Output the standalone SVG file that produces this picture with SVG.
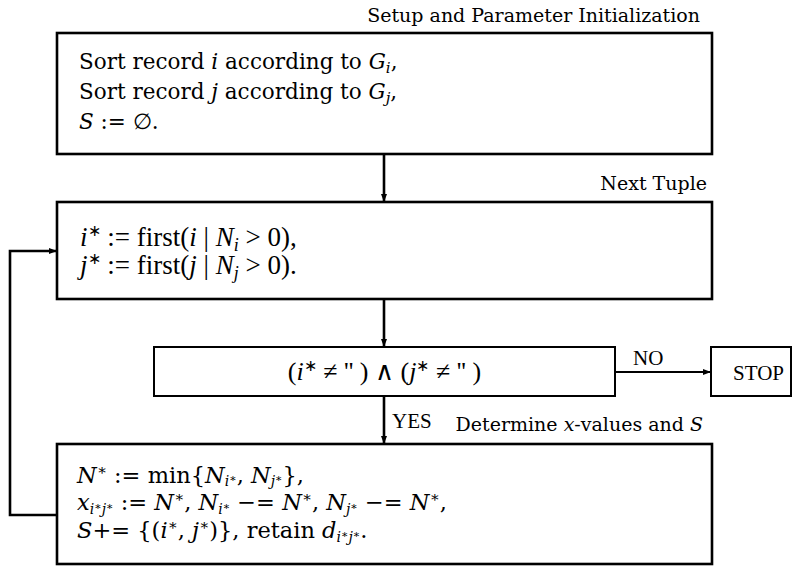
<svg xmlns="http://www.w3.org/2000/svg" width="805" height="567" viewBox="0 0 805 567">
<defs>
<style>
.box{fill:#fff;stroke:#000;stroke-width:2.6}
.thin{fill:#fff;stroke:#000;stroke-width:2}
.con{fill:none;stroke:#000;stroke-width:2.6}
.conthin{fill:none;stroke:#000;stroke-width:1.8}
.luc{font-family:"DejaVu Serif","Liberation Serif",serif;font-size:21.5px;fill:#000}
.luc2{font-family:"DejaVu Serif","Liberation Serif",serif;font-size:22.5px;fill:#000}
.lab{font-family:"DejaVu Serif","Liberation Serif",serif;font-size:19px;fill:#000}
.cm{font-family:"Liberation Serif","Times New Roman",serif;font-size:27px;fill:#000}
.dec{font-family:"Liberation Serif","Times New Roman",serif;font-size:26px;fill:#000}
.tm{font-family:"Liberation Serif","Times New Roman",serif;font-size:21px;fill:#000}
.it{font-style:italic}
</style>
<marker id="ah" viewBox="0 0 8 6" refX="8" refY="3" markerWidth="8" markerHeight="6" markerUnits="userSpaceOnUse" orient="auto">
<path d="M0,0 L8,3 L0,6 Z" fill="#000"/>
</marker>
</defs>
<rect width="805" height="567" fill="#fff"/>

<g id="connectors">
<path class="con" d="M384,154 V202" marker-end="url(#ah)"/>
<path class="con" d="M384,299 V347" marker-end="url(#ah)"/>
<path class="con" d="M384,396 V444" marker-end="url(#ah)"/>
<path class="conthin" d="M615,372 H711" marker-end="url(#ah)"/>
<path class="con" d="M57,515 H10 V251 H57" marker-end="url(#ah)"/>
<text class="tm" x="633" y="365">NO</text>
<text class="tm" x="392" y="428">YES</text>
</g>

<g id="label-setup">
<text class="lab" x="700" y="22" text-anchor="end">Setup and Parameter Initialization</text>
</g>
<g id="label-next">
<text class="lab" x="707" y="190" text-anchor="end">Next Tuple</text>
</g>
<g id="label-determine">
<text class="lab" x="703" y="431" text-anchor="end">Determine <tspan class="it">x</tspan>-values and <tspan class="it">S</tspan></text>
</g>

<g id="setup">
<rect class="box" x="57" y="33" width="655" height="121"/>
<text class="luc" x="79" y="69">Sort record <tspan class="it">i</tspan> according to <tspan class="it">G</tspan><tspan class="it" font-size="15" dy="4">i</tspan><tspan dy="-4">,</tspan></text>
<text class="luc" x="79" y="99">Sort record <tspan class="it">j</tspan> according to <tspan class="it">G</tspan><tspan class="it" font-size="15" dy="4">j</tspan><tspan dy="-4">,</tspan></text>
<text class="luc" x="79" y="129"><tspan class="it">S</tspan> := ∅.</text>
</g>

<g id="next-tuple">
<rect class="box" x="57" y="202" width="655" height="97"/>
<text class="cm" x="80" y="246"><tspan class="it">i</tspan><tspan font-size="16" dy="-10">∗</tspan><tspan dy="10"> := first(</tspan><tspan class="it">i</tspan> | <tspan class="it">N</tspan><tspan class="it" font-size="18" dy="5">i</tspan><tspan dy="-5"> &gt; 0),</tspan></text>
<text class="cm" x="80" y="274"><tspan class="it">j</tspan><tspan font-size="16" dy="-10">∗</tspan><tspan dy="10"> := first(</tspan><tspan class="it">j</tspan> | <tspan class="it">N</tspan><tspan class="it" font-size="18" dy="5">j</tspan><tspan dy="-5"> &gt; 0).</tspan></text>
</g>

<g id="decision">
<rect class="thin" x="154" y="347" width="461" height="49"/>
<text class="dec" x="384.5" y="380" text-anchor="middle">(<tspan class="it">i</tspan><tspan font-size="16" dy="-9">∗</tspan><tspan dy="9"> ≠ '' ) ∧ (</tspan><tspan class="it">j</tspan><tspan font-size="16" dy="-9">∗</tspan><tspan dy="9"> ≠ '' )</tspan></text>
</g>

<g id="stop">
<rect class="thin" x="711" y="347" width="80" height="49"/>
<text class="tm" x="733" y="380">STOP</text>
</g>

<g id="determine">
<rect class="box" x="57" y="444" width="655" height="120"/>
<text class="luc2" x="77" y="483"><tspan class="it">N</tspan><tspan font-size="15" dy="-8">∗</tspan><tspan dy="8"> := min{</tspan><tspan class="it">N</tspan><tspan class="it" font-size="14" dy="3">i</tspan><tspan font-size="11" dy="-4">∗</tspan><tspan dy="1">, </tspan><tspan class="it">N</tspan><tspan class="it" font-size="14" dy="3">j</tspan><tspan font-size="11" dy="-4">∗</tspan><tspan dy="1">},</tspan></text>
<text class="luc2" x="77" y="510"><tspan class="it">x</tspan><tspan class="it" font-size="14" dy="4">i</tspan><tspan font-size="11" dy="-4">∗</tspan><tspan class="it" font-size="14" dy="4">j</tspan><tspan font-size="11" dy="-4">∗</tspan><tspan dy="0"> := </tspan><tspan class="it">N</tspan><tspan font-size="15" dy="-8">∗</tspan><tspan dy="8">, </tspan><tspan class="it">N</tspan><tspan class="it" font-size="14" dy="4">i</tspan><tspan font-size="11" dy="-4">∗</tspan><tspan dy="0"> −= </tspan><tspan class="it">N</tspan><tspan font-size="15" dy="-8">∗</tspan><tspan dy="8">, </tspan><tspan class="it">N</tspan><tspan class="it" font-size="14" dy="4">j</tspan><tspan font-size="11" dy="-4">∗</tspan><tspan dy="0"> −= </tspan><tspan class="it">N</tspan><tspan font-size="15" dy="-8">∗</tspan><tspan dy="8">,</tspan></text>
<text class="luc2" x="77" y="538"><tspan class="it">S</tspan>+= {(<tspan class="it">i</tspan><tspan font-size="15" dy="-8">∗</tspan><tspan dy="8">, </tspan><tspan class="it">j</tspan><tspan font-size="15" dy="-8">∗</tspan><tspan dy="8">)}, retain </tspan><tspan class="it">d</tspan><tspan class="it" font-size="14" dy="4">i</tspan><tspan font-size="11" dy="-4">∗</tspan><tspan class="it" font-size="14" dy="4">j</tspan><tspan font-size="11" dy="-4">∗</tspan><tspan dy="0">.</tspan></text>
</g>
</svg>
